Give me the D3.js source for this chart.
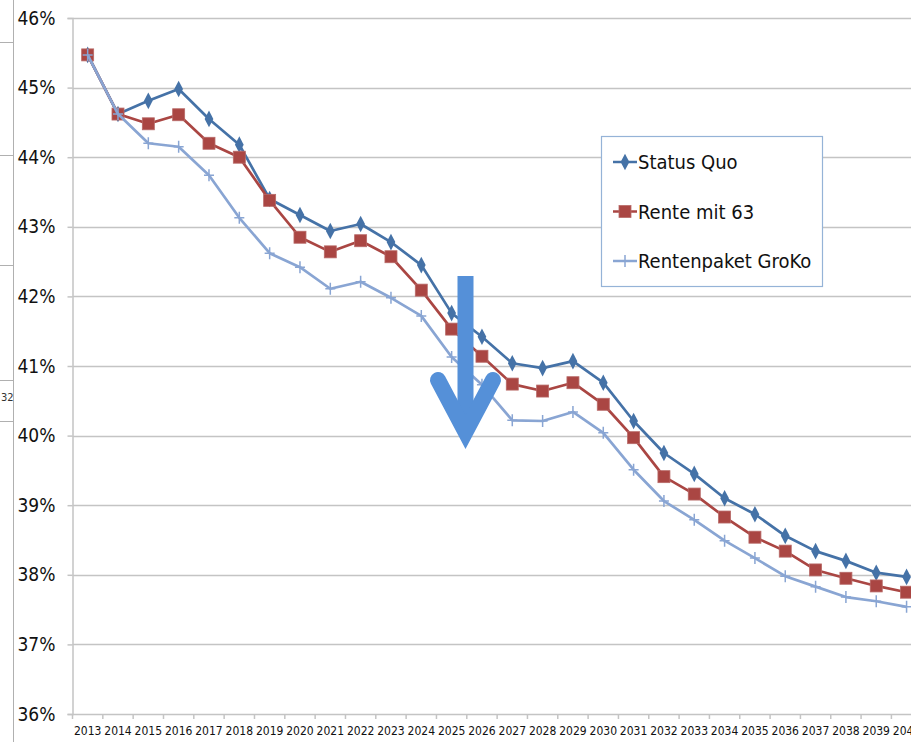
<!DOCTYPE html>
<html>
<head>
<meta charset="utf-8">
<script src="https://cdn.jsdelivr.net/npm/d3@7"></script>
<style>
  body { margin: 0; background: #fff; }
  svg { display: block; font-family: "Liberation Sans Narrow", "DejaVu Sans Condensed", sans-serif; }
</style>
</head>
<body>
<svg id="chart" width="911" height="742"></svg>
<script>
const years = d3.range(2013, 2041).map(String);

const statusQuo = [45.47, 44.62, 44.81, 44.98, 44.55, 44.18, 43.40, 43.17, 42.94, 43.04,
  42.78, 42.45, 41.76, 41.42, 41.04, 40.97, 41.07, 40.76, 40.21, 39.75,
  39.45, 39.10, 38.87, 38.56, 38.34, 38.20, 38.03, 37.97];

const rente63 = [45.47, 44.62, 44.48, 44.61, 44.20, 44.00, 43.38, 42.85, 42.64, 42.80,
  42.57, 42.09, 41.53, 41.14, 40.74, 40.64, 40.76, 40.45, 39.97, 39.41,
  39.16, 38.83, 38.54, 38.34, 38.07, 37.95, 37.84, 37.75];

const groKo = [45.47, 44.62, 44.20, 44.15, 43.74, 43.13, 42.62, 42.42, 42.11, 42.21,
  41.98, 41.72, 41.13, 40.73, 40.22, 40.21, 40.34, 40.04, 39.51, 39.06,
  38.79, 38.49, 38.24, 37.98, 37.83, 37.68, 37.62, 37.54];

const yTicks = [36, 37, 38, 39, 40, 41, 42, 43, 44, 45, 46];

const seriesList = [
  { name: "Status Quo", values: statusQuo, color: "#4572a7", marker: "diamond" },
  { name: "Rente mit 63", values: rente63, color: "#aa4643", marker: "square" },
  { name: "Rentenpaket GroKo", values: groKo, color: "#89a5d3", marker: "plus" }
];

const svg = d3.select("#chart");
const margin = { left: 72.5, top: 18, bottom: 714 };
const band = 30.33;

const x = d3.scaleBand()
  .domain(years)
  .range([margin.left, margin.left + band * years.length]);

const y = d3.scaleLinear()
  .domain([36, 46])
  .range([margin.bottom, margin.top]);

// leftover spreadsheet bits on the far left
const left = svg.append("g").attr("stroke", "#b0b0b0").attr("stroke-width", 1);
left.append("line").attr("x1", 13.5).attr("x2", 13.5).attr("y1", 0).attr("y2", 742);
[42, 155, 265, 380, 421].forEach(v => {
  left.append("line").attr("x1", 0).attr("x2", 13).attr("y1", v + 0.5).attr("y2", v + 0.5);
});
svg.append("text").attr("x", 1).attr("y", 401).attr("font-size", 11)
  .attr("fill", "#333").text("32");

// gridlines
svg.append("g")
  .selectAll("line")
  .data(yTicks.slice(1))
  .join("line")
  .attr("x1", margin.left)
  .attr("x2", 911)
  .attr("y1", d => Math.round(y(d)) + 0.5)
  .attr("y2", d => Math.round(y(d)) + 0.5)
  .attr("stroke", "#c4c4c4")
  .attr("stroke-width", 1.5);

// y axis
const yAxis = svg.append("g")
  .attr("transform", `translate(${margin.left},0)`)
  .call(d3.axisLeft(y).tickValues(yTicks).tickSize(5).tickPadding(12)
    .tickFormat(d => d + "%"));
yAxis.select(".domain").attr("stroke", "#c4c4c4").attr("stroke-width", 1.5);
yAxis.selectAll(".tick line").attr("stroke", "#c4c4c4").attr("stroke-width", 1.5);
yAxis.selectAll(".tick text").attr("font-size", 19).attr("fill", "#111")
  .attr("font-family", "Liberation Sans Narrow, DejaVu Sans Condensed, sans-serif");

// x axis (the last label runs off the right edge, as in the original)
const xAxis = svg.append("g")
  .attr("transform", `translate(0,${margin.bottom})`)
  .call(d3.axisBottom(x).tickSize(0).tickPadding(12));
xAxis.select(".domain").attr("stroke", "#c4c4c4").attr("stroke-width", 1.5);
xAxis.selectAll(".tick text").attr("font-size", 12).attr("fill", "#111")
  .attr("font-family", "Liberation Sans Narrow, DejaVu Sans Condensed, sans-serif");
svg.append("g")
  .selectAll("line")
  .data(years.concat(["end"]))
  .join("line")
  .attr("x1", (d, i) => margin.left + i * band)
  .attr("x2", (d, i) => margin.left + i * band)
  .attr("y1", margin.bottom)
  .attr("y2", margin.bottom + 5)
  .attr("stroke", "#c4c4c4")
  .attr("stroke-width", 1.5);

const cx = d => x(d) + x.bandwidth() / 2;

function drawMarker(g, type, color, px, py) {
  if (type === "diamond") {
    g.append("path")
      .attr("d", d3.symbol(d3.symbolDiamond, 66)())
      .attr("transform", `translate(${px},${py}) scale(1,1.1)`)
      .attr("fill", color);
  } else if (type === "square") {
    g.append("rect")
      .attr("x", px - 6).attr("y", py - 6)
      .attr("width", 12).attr("height", 12)
      .attr("fill", color)
      .attr("stroke", "#b86a68").attr("stroke-width", 0.8);
  } else {
    g.append("path")
      .attr("d", `M${px - 5},${py}H${px + 5}M${px},${py - 6}V${py + 6}`)
      .attr("stroke", color).attr("stroke-width", 1.5);
  }
}

const line = d3.line().x(d => cx(d.year)).y(d => y(d.value));

seriesList.forEach(s => {
  const pts = years.map((yr, i) => ({ year: yr, value: s.values[i] }));
  const g = svg.append("g");
  g.append("path")
    .attr("d", line(pts))
    .attr("fill", "none")
    .attr("stroke", s.color)
    .attr("stroke-width", 2.7)
    .attr("stroke-linejoin", "round");
  pts.forEach(p => drawMarker(g, s.marker, s.color, cx(p.year), y(p.value)));
});

// big downward arrow
const arrow = svg.append("g")
  .attr("stroke", "#5590d8")
  .attr("fill", "none")
  .attr("stroke-width", 16);
arrow.append("line")
  .attr("x1", 465.5).attr("x2", 465.5)
  .attr("y1", 276).attr("y2", 425)
  .attr("stroke-linecap", "butt");
arrow.append("path")
  .attr("d", "M438,380L465.5,432L493,380")
  .attr("stroke-linecap", "round")
  .attr("stroke-linejoin", "miter");

// legend
const legend = svg.append("g").attr("transform", "translate(601,136)");
legend.append("rect")
  .attr("x", 0.5).attr("y", 0.5)
  .attr("width", 221).attr("height", 150)
  .attr("fill", "#fff")
  .attr("stroke", "#95b3d7")
  .attr("stroke-width", 1.2);
seriesList.forEach((s, i) => {
  const ly = 26 + i * 49.5;
  const lg = legend.append("g");
  lg.append("line")
    .attr("x1", 12).attr("x2", 36)
    .attr("y1", ly).attr("y2", ly)
    .attr("stroke", s.color).attr("stroke-width", 2.5);
  drawMarker(lg, s.marker, s.color, 24, ly);
  lg.append("text")
    .attr("x", 37).attr("y", ly + 7)
    .attr("font-size", 20)
    .attr("fill", "#111")
    .text(s.name);
});
</script>
</body>
</html>
